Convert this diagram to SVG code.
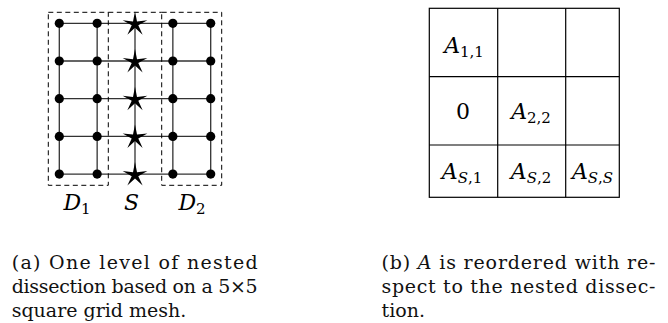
<svg xmlns="http://www.w3.org/2000/svg" width="668" height="323" viewBox="0 0 668 323">
<style>
.edge{stroke:#333;stroke-width:1.3;fill:none}
.dash{stroke:#000;stroke-width:1;fill:none;stroke-dasharray:5 3.5}
.cell{stroke:#000;stroke-width:1.2;fill:none}
text{font-family:"DejaVu Serif",serif}
.math{font-size:22px;fill:#000}
.it{font-style:italic}
.sub{font-size:15px;font-style:normal}
.cap{font-size:19px;fill:#111}
</style>
<defs>
<path id="star" d="M0,-13 L2,-2.8 L12.36,-4.02 L3.3,1.05 L7.64,10.52 L0,3.5 L-7.64,10.52 L-3.3,1.05 L-12.36,-4.02 L-2,-2.8 Z" fill="#000"/>
<circle id="dot" r="4.6" fill="#000"/>
</defs>
<rect width="668" height="323" fill="#fff"/>

<g id="connectors">
<path class="edge" d="M59.3,23.3H210.7M59.3,61H210.7M59.3,98.7H210.7M59.3,136.4H210.7M59.3,174.1H210.7"/>
<path class="edge" d="M59.3,23.3V174.1M97.15,23.3V174.1M135,23.3V174.1M172.85,23.3V174.1M210.7,23.3V174.1"/>
</g>

<g id="partitions">
<rect class="dash" x="48.3" y="12.3" width="60" height="173"/>
<rect class="dash" x="161.7" y="12.3" width="60" height="173"/>
<path class="dash" d="M108.3,12.3H161.7"/>
</g>

<g id="nodes-D1">
<use href="#dot" x="59.3" y="23.3"/><use href="#dot" x="97.15" y="23.3"/>
<use href="#dot" x="59.3" y="61"/><use href="#dot" x="97.15" y="61"/>
<use href="#dot" x="59.3" y="98.7"/><use href="#dot" x="97.15" y="98.7"/>
<use href="#dot" x="59.3" y="136.4"/><use href="#dot" x="97.15" y="136.4"/>
<use href="#dot" x="59.3" y="174.1"/><use href="#dot" x="97.15" y="174.1"/>
</g>
<g id="nodes-S">
<use href="#star" x="135" y="24.3"/>
<use href="#star" x="135" y="62"/>
<use href="#star" x="135" y="99.7"/>
<use href="#star" x="135" y="137.4"/>
<use href="#star" x="135" y="175.1"/>
</g>
<g id="nodes-D2">
<use href="#dot" x="172.85" y="23.3"/><use href="#dot" x="210.7" y="23.3"/>
<use href="#dot" x="172.85" y="61"/><use href="#dot" x="210.7" y="61"/>
<use href="#dot" x="172.85" y="98.7"/><use href="#dot" x="210.7" y="98.7"/>
<use href="#dot" x="172.85" y="136.4"/><use href="#dot" x="210.7" y="136.4"/>
<use href="#dot" x="172.85" y="174.1"/><use href="#dot" x="210.7" y="174.1"/>
</g>

<g id="labels">
<text class="math" x="77" y="210" text-anchor="middle"><tspan class="it">D</tspan><tspan class="sub" dy="4">1</tspan></text>
<text class="math it" x="131.5" y="210" text-anchor="middle">S</text>
<text class="math" x="192" y="210" text-anchor="middle"><tspan class="it">D</tspan><tspan class="sub" dy="4">2</tspan></text>
</g>

<g id="matrix">
<rect class="cell" x="429.3" y="8.3" width="190" height="189"/>
<path class="cell" d="M497.7,8.3V197.3M565.7,8.3V197.3M429.3,76.7H619.3M429.3,145H619.3"/>
<text class="math" x="464" y="53" text-anchor="middle"><tspan class="it">A</tspan><tspan class="sub" dy="4">1,1</tspan></text>
<text class="math" x="463" y="119" text-anchor="middle">0</text>
<text class="math" x="531" y="119" text-anchor="middle"><tspan class="it">A</tspan><tspan class="sub" dy="4">2,2</tspan></text>
<text class="math" x="462" y="179" text-anchor="middle"><tspan class="it">A</tspan><tspan class="sub" dy="4"><tspan class="it">S</tspan>,1</tspan></text>
<text class="math" x="531" y="179" text-anchor="middle"><tspan class="it">A</tspan><tspan class="sub" dy="4"><tspan class="it">S</tspan>,2</tspan></text>
<text class="math" x="592.5" y="179" text-anchor="middle"><tspan class="it">A</tspan><tspan class="sub" dy="4"><tspan class="it">S</tspan>,<tspan class="it">S</tspan></tspan></text>
</g>

<g id="caption-a">
<text class="cap" x="11.7" y="269" textLength="246" lengthAdjust="spacing">(a) One level of nested</text>
<text class="cap" x="11.7" y="293" textLength="246" lengthAdjust="spacing">dissection based on a 5×5</text>
<text class="cap" x="11.7" y="317">square grid mesh.</text>
</g>
<g id="caption-b">
<text class="cap" x="381.5" y="269" textLength="274" lengthAdjust="spacing">(b) <tspan class="it">A</tspan> is reordered with re-</text>
<text class="cap" x="381.5" y="293" textLength="274" lengthAdjust="spacing">spect to the nested dissec-</text>
<text class="cap" x="381.5" y="317">tion.</text>
</g>
</svg>
